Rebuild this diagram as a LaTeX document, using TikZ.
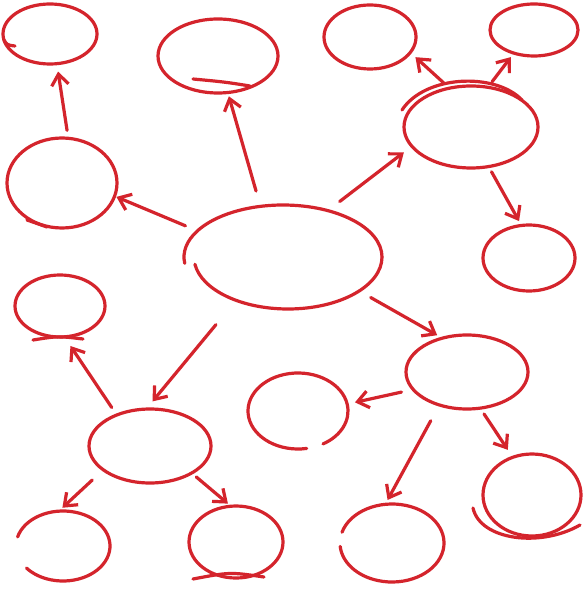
\documentclass[tikz,border=0pt]{standalone}
\usetikzlibrary{shapes.geometric,arrows.meta}
\definecolor{hred}{RGB}{212,36,44}
\tikzset{
  esize/.style 2 args={minimum width=#1pt, minimum height=#2pt},
  bub/.style={ellipse, draw=hred, line width=3.2pt, inner sep=0pt, outer sep=0pt},
  openbub/.style={ellipse, draw=none, inner sep=0pt, outer sep=0pt},
  hand/.style={draw=hred, line width=3.2pt, line cap=round},
  arr/.style={draw=hred, line width=3.2pt, line cap=round,
    -{Straight Barb[length=11pt,width=17pt,line width=3.2pt]}}
}
\begin{document}
\begin{tikzpicture}[x=1pt,y=-1pt]
\useasboundingbox[fill=white] (0,0) rectangle (586,593);
% bubbles
\node[bub, esize={94}{60}] (n1) at (50,34) {};
\node[bub, esize={120}{74}] (n2) at (218,56) {};
\node[bub, esize={92}{64}] (n3) at (370,37) {};
\node[bub, esize={88}{52}] (n4) at (534,30) {};
\node[bub, esize={134}{82}] (n5) at (471,127) {};
\node[bub, esize={110}{90}] (n6) at (62,183) {};
\node[openbub, esize={198}{104}] (c) at (283,257) {};
\node[bub, esize={92}{66}] (n8) at (529,258) {};
\node[bub, esize={90}{62}] (n9) at (60,306) {};
\node[bub, esize={122}{74}] (n10) at (467,372) {};
\node[openbub, esize={100}{76}] (n11) at (298,411) {};
\node[bub, esize={122}{74}] (n12) at (150,446) {};
\node[bub, esize={98}{82}] (n13) at (532,495) {};
\node[openbub, esize={94}{70}] (n14) at (63,546) {};
\node[bub, esize={94}{72}] (n15) at (236,542) {};
\node[openbub, esize={104}{78}] (n16) at (392,543) {};
% open hand-drawn outlines
\draw[hand] ([shift={(c)}] 0:99 and 52) arc[start angle=0, end angle=-187, x radius=99, y radius=52];
\draw[hand] ([shift={(c)}] 0:99 and 52) arc[start angle=0, end angle=172, x radius=94, y radius=52];
\draw[hand] ([shift={(n11)}] 80:50 and 38) arc[start angle=80, end angle=420, x radius=50, y radius=38];
\draw[hand] ([shift={(n14)}] 195:47 and 35) arc[start angle=195, end angle=501, x radius=47, y radius=35];
\draw[hand] ([shift={(n16)}] 196:52 and 39) arc[start angle=196, end angle=535, x radius=52, y radius=39];
% extra strokes
\draw[hand] (4,40) .. controls (7,45) .. (15,46);
\draw[hand] (193,79) .. controls (225,82) .. (250,86);
\draw[hand] (402,110) .. controls (425,75) and (495,72) .. (522,100);
\draw[hand] (27,220) -- (47,227);
\draw[hand] (33,340) .. controls (58,336) .. (83,339);
\draw[hand] (193,579) .. controls (230,572) .. (264,577);
\draw[hand] (473,508) .. controls (480,540) and (540,548) .. (580,525);
% arrows
\draw[arr, shorten <=8pt, shorten >=8pt] (n6.82) -- (n1.-77);
\draw[arr, shorten <=16pt, shorten >=4pt] (c.114) -- (n2.-75);
\draw[arr, shorten <=13pt, shorten >=2pt] (c.163) -- (n6.-14);
\draw[arr, shorten <=15pt, shorten >=10pt] (c.46) -- (n5.198);
\draw[arr, shorten <=8pt, shorten >=7pt] (n5.119) -- (n3.-21);
\draw[arr, shorten <=7pt, shorten >=5pt] (n5.67) -- (n4.-131);
\draw[arr, shorten <=6pt, shorten >=5pt] (n5.-66) -- (n8.103);
\draw[arr, shorten <=14pt, shorten >=6pt] (c.-24) -- (n10.126);
\draw[arr, shorten <=29pt, shorten >=10pt] (c.-137) -- (n12.96);
\draw[arr, shorten <=9pt, shorten >=11pt] (n12.137) -- (n9.-82);
\draw[arr, shorten <=12pt, shorten >=8pt] (n10.-162) -- (n11.8);
\draw[arr, shorten <=18pt, shorten >=5pt] (n10.-130) -- (n16.100);
\draw[arr, shorten <=7pt, shorten >=9pt] (n10.-70) -- (n13.117);
\draw[arr, shorten <=15pt, shorten >=5pt] (n12.-153) -- (n14.97);
\draw[arr, shorten <=6pt, shorten >=4pt] (n12.-33) -- (n15.98);
\end{tikzpicture}
\end{document}
